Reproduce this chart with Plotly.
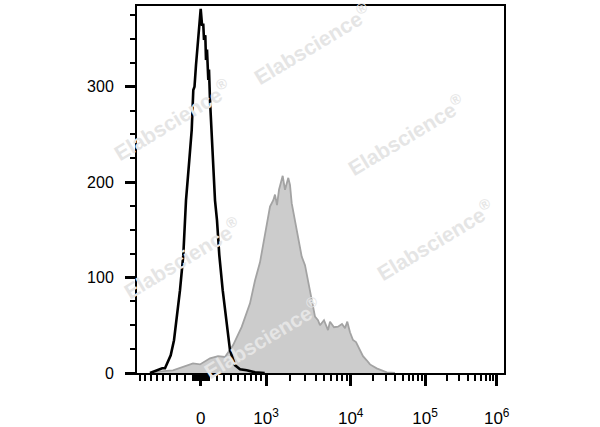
import numpy as np
import plotly.graph_objects as go

# ---- data (x in display-scale units: 0 = intensity 0; y = cell counts) ----
unstained_x = [-50.7, -45.7, -40.7, -38.5, -35.7, -30, -26.7, -20.7, -17.4, -14.7, -11.4, -9, -7.4,
               -6.2, -4.7, -1.2, 0, 1.3, 2.6, 3.3, 4.6, 5.3, 6.3, 7.6, 8.3, 9.3, 11, 14.3, 16.3,
               18.6, 22, 26.6, 29.3, 34.3, 39.3, 46, 54.3, 64]
unstained_y = [0, 1.8, 4, 5, 5, 18.6, 34.3, 86.8, 123.5, 181, 223, 254.6, 296.5,
               300, 322.8, 370, 381.5, 365, 365, 349, 354, 328, 339, 307, 318, 286, 254.6, 181, 160,
               123.5, 86.8, 44.8, 23.8, 8.1, 3.9, 2.8, 0.7, 0]

stained_x = [-50.7, -40.7, -27.7, -15.7, -7.7, -0.7, 9.3, 17.3, 24.3, 32.3, 41, 49.3, 54.3, 59.3,
             62.6, 66.3, 69.3, 72.6, 74.3, 76.3, 78.3, 82, 84.3, 87.6, 89.3, 91, 93.3, 96.6, 101,
             104.3, 107.6, 111.3, 114.3, 117.3, 119.3, 123.3, 127.3, 129.3, 133.3, 137.3, 141.3,
             144.3, 146.6, 149.3, 152.3, 155.3, 159.3, 162.3, 166, 169.3, 176, 186, 194.3]
stained_y = [0, 1.8, 2.8, 7, 10, 9, 15.4, 17.6, 16.8, 29, 48.3, 73, 97, 116,
             136, 155, 174.4, 181, 187, 176, 192, 206.6, 192, 204.5, 197, 178, 165, 150, 122,
             113, 94, 76.6, 59, 55.3, 50, 55.3, 45, 53.8, 48, 48.5, 51.3,
             47, 53.8, 42.7, 34.6, 32.5, 24, 17.6, 13.3, 9, 4.9, 0.7, 0]

major_values = [0, 1e3, 1e4, 1e5, 1e6]
major_labels = ["0", "10<sup>3</sup>", "10<sup>4</sup>", "10<sup>5</sup>", "10<sup>6</sup>"]
y_ticks = [0, 100, 200, 300]

# ---- biexponential-like display scale ----
C = 700.0
anchor_vals = np.array([-1000, 0, 1e3, 1e4, 1e5, 1e6, 1e7])
anchor_disp = np.array([-65.3, 0, 65.3, 150, 224.3, 296, 368])


def to_disp(v):
    v = np.asarray(v, dtype=float)
    return np.interp(np.arcsinh(v / C), np.arcsinh(anchor_vals / C), anchor_disp)


minor_vals = ([k * 10 for k in range(-9, 10) if k != 0]
              + [k * 100 for k in range(-9, 10) if k != 0]
              + [k * 10 ** d for d in (3, 4, 5) for k in range(2, 10)])

fig = go.Figure()
fig.add_trace(go.Scatter(x=stained_x, y=stained_y, mode="lines", fill="tozeroy",
                         fillcolor="#cccccc", line=dict(color="#a3a3a3", width=1.8),
                         hoverinfo="skip", showlegend=False))
fig.add_trace(go.Scatter(x=unstained_x, y=unstained_y, mode="lines",
                         line=dict(color="black", width=2.6),
                         hoverinfo="skip", showlegend=False))

# watermarks
wm = [(0.477, 0.897), (0.095, 0.690), (0.733, 0.649), (0.123, 0.313), (0.812, 0.362), (0.341, 0.095)]
for (px, py) in wm:
    fig.add_annotation(x=px, y=py, xref="paper", yref="paper", showarrow=False,
                       xanchor="center", yanchor="middle",
                       text="Elabscience<sup>®</sup>", textangle=-31,
                       font=dict(family="Liberation Sans, Arial", size=21, color="#e5e5e5",
                                 weight="bold"))

fig.update_layout(
    width=600, height=427,
    margin=dict(l=137, r=96, t=6, b=54),
    paper_bgcolor="white", plot_bgcolor="white",
    font=dict(family="Liberation Sans, Arial", size=16, color="black"),
    xaxis=dict(range=[-63.7, 303.3], showgrid=False, zeroline=False, automargin=False,
               showline=True, linecolor="black", linewidth=2, mirror=True,
               tickmode="array", tickvals=list(to_disp(major_values)), ticktext=major_labels,
               ticks="outside", ticklen=11, tickwidth=3, tickcolor="black",
               ticklabelstandoff=18, tickfont=dict(size=17),
               minor=dict(tickmode="array", tickvals=list(to_disp(minor_vals)),
                          ticks="outside", ticklen=6, tickwidth=1.5, tickcolor="black")),
    yaxis=dict(range=[0, 384.6], showgrid=False, zeroline=False, automargin=False,
               showline=True, linecolor="black", linewidth=2, mirror=True,
               tickmode="array", tickvals=y_ticks, ticktext=[str(v) for v in y_ticks],
               ticks="outside", ticklen=10, tickwidth=2.5, tickcolor="black",
               ticklabelstandoff=8, tickfont=dict(size=16),
               minor=dict(tickmode="array", tickvals=[v for v in range(25, 400, 25) if v % 100],
                          ticks="outside", ticklen=5, tickwidth=1.5, tickcolor="black")),
)

fig.write_html("out.html", config={"displayModeBar": False},
               post_script="document.body.style.margin='0px';")
